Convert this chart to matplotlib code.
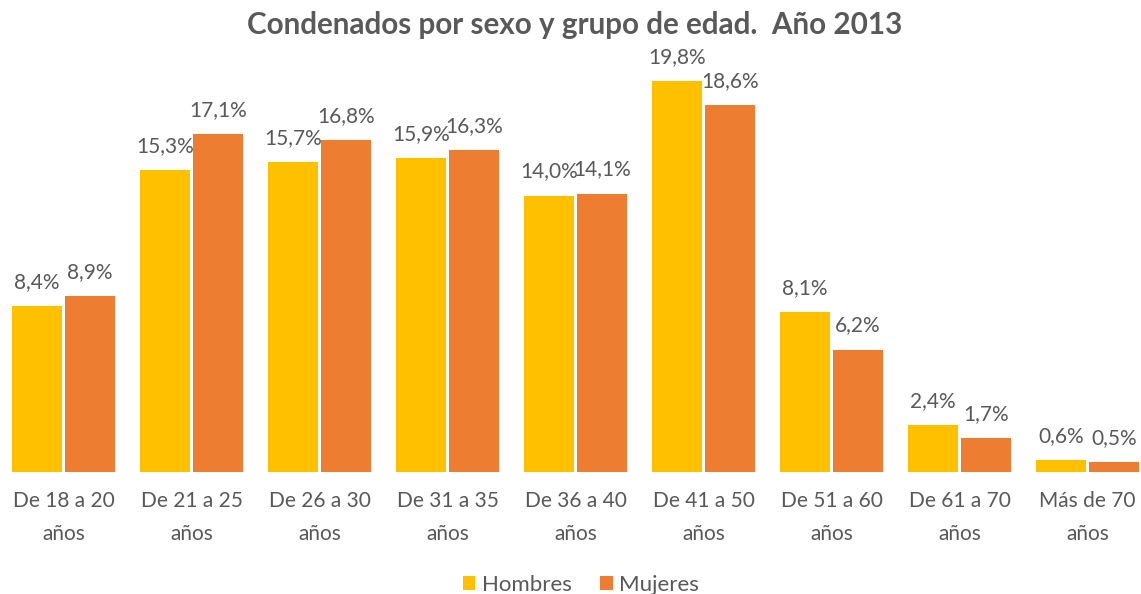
import matplotlib
matplotlib.use("Agg")
import matplotlib.pyplot as plt
import numpy as np
from matplotlib.patches import Patch

categories = ["De 18 a 20\naños", "De 21 a 25\naños", "De 26 a 30\naños", "De 31 a 35\naños",
              "De 36 a 40\naños", "De 41 a 50\naños", "De 51 a 60\naños", "De 61 a 70\naños",
              "Más de 70\naños"]
hombres = [8.4, 15.3, 15.7, 15.9, 14.0, 19.8, 8.1, 2.4, 0.6]
mujeres = [8.9, 17.1, 16.8, 16.3, 14.1, 18.6, 6.2, 1.7, 0.5]
series_names = ["Hombres", "Mujeres"]
colors = ["#FFC000", "#ED7D31"]
text_color = "#595959"

plt.rcParams['font.family'] = ['Lato', 'DejaVu Sans']

W, H = 1141, 594
fig = plt.figure(figsize=(W / 100, H / 100), dpi=100)
ax = fig.add_axes([-0.5 / W, (H - 472) / H, 1152 / W, 434.5 / H])

x = np.arange(len(categories))
bw = 0.39
off = 0.207
b1 = ax.bar(x - off, hombres, bw, color=colors[0], edgecolor='none')
b2 = ax.bar(x + off, mujeres, bw, color=colors[1], edgecolor='none')

for bars, vals in ((b1, hombres), (b2, mujeres)):
    for rect, v in zip(bars, vals):
        ax.annotate(f"{v:.1f}%".replace('.', ','),
                    (rect.get_x() + rect.get_width() / 2, rect.get_height()),
                    xytext=(0, 14), textcoords='offset pixels',
                    ha='center', va='bottom', fontsize=15, color=text_color)

ax.set_xlim(-0.5, len(categories) - 0.5)
ax.set_ylim(0, 22)
ax.set_xticks(x)
ax.set_xticklabels(categories, fontsize=15, color=text_color, linespacing=1.8)
ax.tick_params(axis='x', length=0, pad=14)
ax.set_yticks([])
for s in ax.spines.values():
    s.set_visible(False)

fig.text(575 / W, 1 - 25 / H, "Condenados por sexo y grupo de edad.  Año 2013",
         ha='center', va='center', fontsize=21.3, fontweight='bold', color=text_color)

handles = [Patch(facecolor=c, edgecolor='none') for c in colors]
fig.legend(handles, series_names, loc='center', bbox_to_anchor=(581 / W, 1 - 585 / H),
           ncol=2, frameon=False, fontsize=16, labelcolor=text_color,
           handlelength=0.55, handleheight=0.55, handletextpad=0.3, columnspacing=1.3)

fig.savefig("out.png", dpi=100)
